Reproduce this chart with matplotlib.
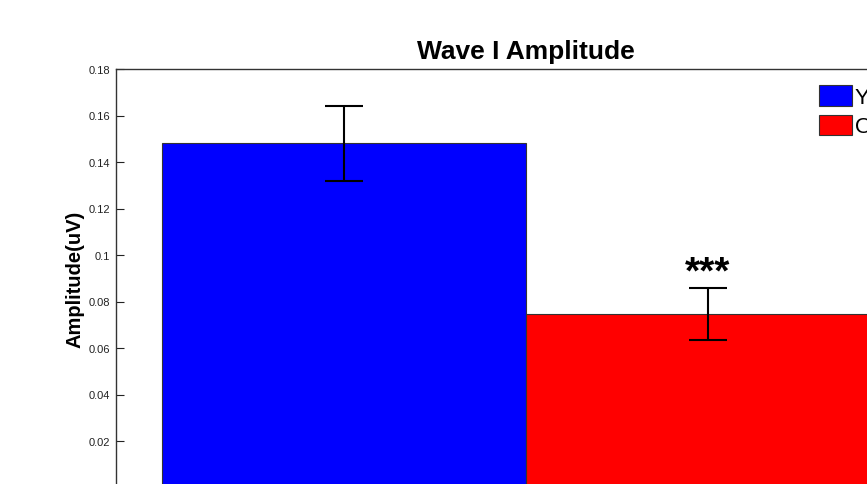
import matplotlib
matplotlib.use("Agg")
import matplotlib.pyplot as plt
import numpy as np

plt.rcParams['font.family'] = ['Liberation Sans', 'DejaVu Sans']

groups = ["Young", "Old"]
means = [0.148, 0.0746]
errors = [0.016, 0.011]
colors = ["#0000ff", "#ff0000"]
yticks = [0.02, 0.04, 0.06, 0.08, 0.1, 0.12, 0.14, 0.16, 0.18]
yticklabels = ["0.02", "0.04", "0.06", "0.08", "0.1", "0.12", "0.14", "0.16", "0.18"]
sig_label = "***"

W, H = 867, 485
fig = plt.figure(figsize=(W / 100, H / 100), dpi=100)
left, right, top, zero = 116, 936, 70, 488.5
ax = fig.add_axes([left / W, (H - zero) / H, (right - left) / W, (zero - top) / H])

x = np.arange(1, len(groups) + 1)
ax.bar(x, means, width=1.0, color=colors, edgecolor="#333333", linewidth=0.8)
ax.errorbar(x, means, yerr=errors, fmt="none", ecolor="black", elinewidth=1.5,
            capsize=14, capthick=1.5)
ax.text(x[1], 0.0880, sig_label, ha="center", va="baseline",
        fontsize=28, fontweight="bold")

ax.set_xlim(1 - 228 / 364, 2 + 228 / 364)
ax.set_ylim(0, 0.18)
ax.set_yticks(yticks)
ax.set_yticklabels(yticklabels)
ax.set_xticks([])
ax.tick_params(axis="y", direction="in", length=6, labelsize=8, pad=4, colors="#222222")
for s in ax.spines.values():
    s.set_color("#333333")
    s.set_linewidth(1.0)

ax.set_ylabel("Amplitude(uV)", fontsize=14.5, fontweight="bold", labelpad=3)
ax.set_title("Wave I Amplitude", fontsize=19, fontweight="bold", pad=8)

handles = [plt.Rectangle((0, 0), 1, 1, facecolor=c, edgecolor="#333333", linewidth=0.8) for c in colors]
fig.legend(handles, groups, loc="upper left", bbox_to_anchor=(819 / W, 1 - 86 / H),
           frameon=False, fontsize=16, handlelength=1.5, handleheight=1.05,
           handletextpad=0.12, labelspacing=0.3, borderpad=0, borderaxespad=0)

fig.savefig("out.png", dpi=100)
